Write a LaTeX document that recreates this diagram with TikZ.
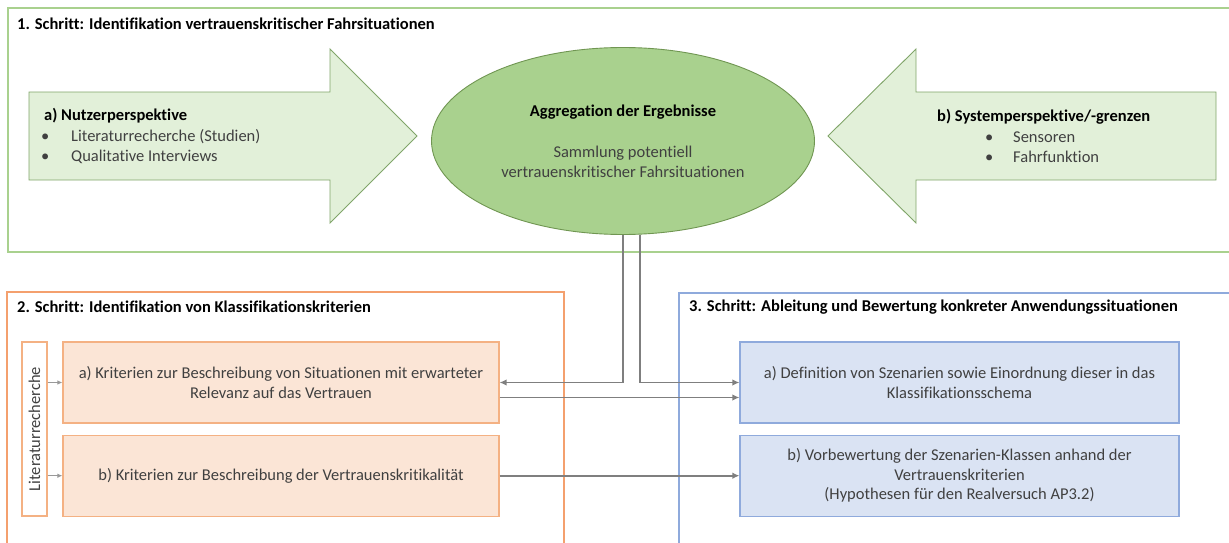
\documentclass[tikz,border=0pt]{standalone}
\usepackage{fontspec}
\setmainfont{Carlito}[Ligatures=NoCommon]
\usepackage{tikz}
\usetikzlibrary{shapes.geometric, positioning, arrows.meta}
\definecolor{StepGreen}{RGB}{169,209,142}
\definecolor{ArrowFill}{RGB}{226,240,217}
\definecolor{ArrowLine}{RGB}{128,165,105}
\definecolor{AggFill}{RGB}{169,209,142}
\definecolor{AggLine}{RGB}{112,150,82}
\definecolor{StepOrange}{RGB}{244,160,110}
\definecolor{CritFill}{RGB}{251,229,214}
\definecolor{CritLine}{RGB}{244,177,131}
\definecolor{StepBlue}{RGB}{143,170,220}
\definecolor{DefFill}{RGB}{218,227,243}
\definecolor{DefLine}{RGB}{143,170,220}
\definecolor{ConnGray}{RGB}{127,127,127}
\definecolor{TextGray}{RGB}{64,64,64}

\begin{document}
\begin{tikzpicture}[x=1pt, y=-1pt,
          font=\fontsize{16.5}{19.5}\selectfont,
          steptitle/.style={anchor=west, inner sep=0pt,
                            font=\fontsize{16.5}{19.5}\selectfont\bfseries},
          blockarrow/.style={fill=ArrowFill, draw=ArrowLine, line width=0.9pt},
          listtext/.style={anchor=west, inner sep=0pt, align=left, text=TextGray,
                           font=\fontsize{16.5}{20.5}\selectfont},
          critbox/.style={rectangle, draw=CritLine, fill=CritFill, line width=1.2pt,
                          minimum width=436pt, minimum height=81pt, inner sep=2pt,
                          align=center, text=TextGray},
          defbox/.style={rectangle, draw=DefLine, fill=DefFill, line width=1.2pt,
                         minimum width=439pt, minimum height=81pt, inner sep=2pt,
                         align=center, text=TextGray},
          conn/.style={draw=ConnGray, line width=1.6pt, -{Latex[length=7pt, width=6.5pt]}},
          litarrow/.style={draw=ConnGray!80, line width=0.9pt, -{Latex[length=5pt, width=4.5pt]}}
        ]
        \useasboundingbox (0,0) rectangle (1229,543);

        % Schritt 1
        \draw[StepGreen, line width=1.3pt] (8,8) rectangle (1240,252);
        \node[steptitle] (t1) at (17,24)
              {1. Schritt: Identifikation vertrauenskritischer Fahrsituationen};

        % Nutzerperspektive (Pfeil nach rechts)
        \draw[blockarrow] (29,92) -- (330,92) -- (330,49) -- (417,136)
              -- (330,223) -- (330,180) -- (29,180) -- cycle;
        \node[listtext] (user) at (41,136)
              {\hspace*{3pt}\textbf{\color{black}a) Nutzerperspektive}\\
               \makebox[30pt][l]{•}Literaturrecherche (Studien)\\
               \makebox[30pt][l]{•}Qualitative Interviews};

        % Systemperspektive (Pfeil nach links)
        \draw[blockarrow] (1216,92) -- (916,92) -- (916,49) -- (828,136)
              -- (916,223) -- (916,180) -- (1216,180) -- cycle;
        \node[listtext] (system) at (937,136)
              {\textbf{\color{black}b) Systemperspektive/-grenzen}\\
               \hspace*{48pt}\makebox[28pt][l]{•}Sensoren\\
               \hspace*{48pt}\makebox[28pt][l]{•}Fahrfunktion};

        % Aggregation
        \node[ellipse, draw=AggLine, fill=AggFill, line width=0.9pt,
              minimum width=383pt, minimum height=187pt, inner sep=0pt,
              align=center, text=TextGray] (agg) at (623,141)
              {\textbf{\color{black}Aggregation der Ergebnisse}\\[22pt]
               Sammlung potentiell\\
               vertrauenskritischer Fahrsituationen};

        % Schritt 2
        \draw[StepOrange, line width=1.2pt] (7,292) rectangle (564,560);
        \node[steptitle] (t2) at (17,307)
              {2. Schritt: Identifikation von Klassifikationskriterien};
        \node[draw=CritLine, fill=white, line width=1.2pt, rotate=90,
              minimum width=174pt, minimum height=25pt, inner sep=0pt,
              text=TextGray] (lit) at (34.5,429) {Literaturrecherche};
        \node[critbox] (crita) at (281,382.5)
              {a) Kriterien zur Beschreibung von Situationen mit erwarteter\\
               Relevanz auf das Vertrauen};
        \node[critbox, below=11pt of crita] (critb)
              {b) Kriterien zur Beschreibung der Vertrauenskritikalität};
        \draw[litarrow] (lit.south |- crita.west) -- (crita.west);
        \draw[litarrow] (lit.south |- critb.west) -- (critb.west);

        % Schritt 3
        \draw[StepBlue, line width=1.2pt] (679,293) rectangle (1240,560);
        \node[steptitle] (t3) at (689,307)
              {3. Schritt: Ableitung und Bewertung konkreter Anwendungssituationen};
        \node[defbox] (defa) at (959.5,382.5)
              {a) Definition von Szenarien sowie Einordnung dieser in das\\
               Klassifikationsschema};
        \node[defbox, below=11pt of defa] (defb)
              {b) Vorbewertung der Szenarien-Klassen anhand der\\
               Vertrauenskriterien\\
               (Hypothesen für den Realversuch AP3.2)};

        % Verbindungen
        \draw[conn] (agg.south) |- (crita.east);
        \draw[conn] ([xshift=17pt]agg.south) |- (defa.west);
        \draw[conn] ([yshift=-15pt]crita.east) -- ([yshift=-15pt]defa.west);
        \draw[conn] (critb.east) -- (defb.west);
      \end{tikzpicture}
\end{document}
